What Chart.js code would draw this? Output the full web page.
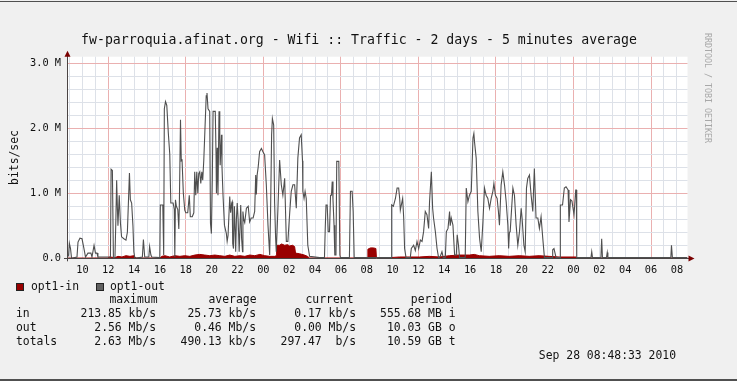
<!DOCTYPE html>
<html>
<head>
<meta charset="utf-8">
<script src="https://cdn.jsdelivr.net/npm/chart.js@4.4.1/dist/chart.umd.min.js"></script>
<style>
html,body{margin:0;padding:0;background:#f0f0f0;}
canvas{display:block;}
</style>
</head>
<body>
<canvas id="c" width="737" height="381"></canvas>
<script>
// ---------- data ----------
const titleText = 'fw-parroquia.afinat.org - Wifi :: Traffic - 2 days - 5 minutes average';
const yAxisTitle = 'bits/sec';
const watermark = 'RRDTOOL / TOBI OETIKER';
const timestampText = 'Sep 28 08:48:33 2010';
const seriesNames = ['opt1-in', 'opt1-out'];

// time axis: hours since Sep 26 00:00
const timeStart = 8.808;
const timeEnd = 56.82;
const xTickHours  = [10,12,14,16,18,20,22,24,26,28,30,32,34,36,38,40,42,44,46,48,50,52,54,56];
const xTickLabels = ['10','12','14','16','18','20','22','00','02','04','06','08','10','12','14','16','18','20','22','00','02','04','06','08'];
const yTickValues = [0, 1, 2, 3];
const yTickLabels = ['0.0', '1.0 M', '2.0 M', '3.0 M'];

// opt1-out (Mbit/s)
const outTimes = [
 8.81,8.85,8.93,8.99,9.08,9.16,9.58,9.66,9.81,9.97,10.12,10.24,10.43,10.66,10.74,10.90,11.01,11.13,11.20,
 12.17,12.22,12.32,12.40,12.52,12.59,12.65,12.71,12.75,12.85,12.94,13.03,13.21,13.37,13.48,13.64,13.71,13.81,13.91,13.98,14.06,
 14.64,14.72,14.82,15.14,15.20,15.30,15.37,15.99,16.03,16.22,16.29,16.34,16.43,16.53,16.65,16.76,16.84,17.02,17.11,17.15,
 17.20,17.27,17.38,17.46,17.50,17.59,17.65,17.71,17.81,17.92,18.00,18.15,18.27,18.35,18.50,18.62,18.69,18.77,18.85,18.93,
 19.00,19.08,19.16,19.24,19.31,19.39,19.47,19.58,19.64,19.72,19.85,19.91,19.98,20.05,20.11,20.28,20.34,20.37,20.43,20.49,
 20.57,20.63,20.66,20.76,20.80,20.88,20.99,21.14,21.20,21.27,21.40,21.47,21.55,21.59,21.63,21.69,21.76,21.82,21.86,21.92,
 21.98,22.05,22.13,22.17,22.25,22.32,22.39,22.42,22.48,22.56,22.69,22.83,22.94,23.06,23.21,23.33,23.41,23.46,23.52,23.60,
 23.71,23.85,23.97,24.10,24.23,24.36,24.49,24.56,24.64,24.70,24.80,24.87,24.95,25.00,25.13,25.26,25.39,25.51,25.65,25.78,
 25.90,26.03,26.16,26.29,26.42,26.55,26.67,26.80,26.93,27.03,27.06,27.15,27.23,27.32,27.44,27.58,28.35,28.73,28.79,28.85,
 28.94,29.02,29.12,29.20,29.27,29.33,29.39,29.47,29.53,29.62,29.68,29.84,29.92,29.97,30.66,30.74,30.87,30.95,31.03,33.91,
 33.93,34.06,34.22,34.35,34.47,34.55,34.60,34.78,34.86,34.93,35.04,35.37,35.45,35.63,35.76,35.89,36.02,36.15,36.28,36.40,
 36.53,36.66,36.79,36.86,37.00,37.10,37.17,37.31,37.44,37.56,37.69,37.82,37.92,38.08,38.16,38.29,38.41,38.46,38.54,38.67,
 38.80,38.93,39.00,39.10,39.18,39.62,39.70,39.83,39.95,40.09,40.22,40.29,40.34,40.47,40.60,40.73,40.86,40.99,41.11,41.24,
 41.37,41.50,41.63,41.76,41.84,41.96,42.09,42.19,42.27,42.40,42.53,42.66,42.79,42.92,42.98,43.04,43.10,43.31,43.43,43.56,
 43.69,43.82,43.95,44.02,44.16,44.26,44.36,44.46,44.59,44.72,44.85,44.97,45.10,45.24,45.36,45.49,45.62,45.75,46.34,46.39,
 46.49,46.65,46.96,46.98,47.15,47.29,47.42,47.58,47.65,47.77,47.88,48.04,48.17,48.22,48.25,49.35,49.41,49.47,50.12,50.18,
 50.24,50.55,50.61,50.66,55.53,55.58,55.65,56.82
];
const outValues = [
 0.00,0.00,0.05,0.23,0.15,0.00,0.02,0.25,0.31,0.30,0.15,0.02,0.08,0.08,0.02,0.20,0.08,0.08,0.02,
 0.02,1.37,1.35,0.00,0.02,0.60,1.20,0.75,0.50,0.97,0.55,0.33,0.30,0.28,0.40,1.31,0.90,0.85,0.50,0.10,0.00,
 0.02,0.29,0.02,0.02,0.18,0.05,0.02,0.01,0.82,0.82,0.05,2.30,2.41,2.35,1.92,1.60,0.85,0.85,0.75,0.02,
 0.90,0.80,0.75,0.45,0.80,2.13,1.50,1.51,1.00,0.74,0.70,0.70,0.97,0.64,0.64,0.70,1.33,0.97,1.33,1.00,
 1.30,1.33,1.15,1.33,1.20,1.50,1.92,2.50,2.54,2.30,2.26,0.54,0.38,1.20,2.26,2.26,1.60,1.00,1.70,0.97,
 2.26,1.85,1.43,1.90,1.41,0.97,0.51,0.38,0.26,0.35,0.95,0.70,0.85,0.87,0.23,0.15,0.80,0.40,0.10,0.62,
 0.85,0.60,0.10,0.10,0.82,0.30,0.10,0.72,0.60,0.55,0.77,0.80,0.56,0.62,0.62,0.72,1.28,0.98,1.28,1.40,
 1.64,1.69,1.64,1.59,1.13,0.51,0.05,0.72,1.90,2.15,2.05,0.87,0.31,0.10,0.77,1.51,1.13,0.97,1.23,0.26,
 0.26,0.67,1.03,1.13,1.13,0.77,1.54,1.85,1.90,1.50,1.03,0.92,1.03,0.92,0.20,0.03,0.01,0.01,0.46,0.82,
 0.82,0.41,0.41,0.97,0.97,1.18,0.90,0.51,0.05,0.05,1.49,1.49,0.05,0.01,0.01,1.03,1.03,0.72,0.01,0.01,
 0.82,0.80,0.92,1.08,1.08,0.92,0.74,0.92,0.62,0.15,0.01,0.01,0.15,0.20,0.12,0.26,0.15,0.28,0.26,0.41,
 0.72,0.67,0.46,0.87,1.33,0.77,0.62,0.41,0.15,0.01,0.03,0.10,0.01,0.01,0.41,0.46,0.72,0.50,0.62,0.51,
 0.05,0.05,0.36,0.20,0.01,0.01,1.08,0.87,0.97,1.03,1.85,1.92,1.79,1.54,0.72,0.31,0.10,0.56,1.08,0.97,
 0.92,0.77,0.92,1.03,1.15,0.97,0.92,0.72,0.51,1.13,1.33,1.13,0.87,0.51,0.15,0.40,0.41,1.08,0.97,0.51,
 0.20,0.41,0.77,0.62,0.20,0.10,1.08,1.23,1.28,0.97,0.72,1.38,0.62,0.62,0.46,0.64,0.31,0.01,0.01,0.13,
 0.15,0.01,0.01,0.82,0.82,1.08,1.10,1.05,0.56,0.90,0.88,0.67,1.05,1.05,0.01,0.01,0.10,0.01,0.01,0.30,
 0.01,0.01,0.09,0.01,0.01,0.20,0.01,0.01
];

// opt1-in (Mbit/s)
const inTimes = [
 8.81,11.98,12.13,12.52,12.75,13.06,13.37,13.68,13.98,14.14,15.99,16.15,16.38,16.76,17.15,17.54,17.92,18.31,18.70,19.08,
 19.47,19.86,20.24,20.63,21.02,21.40,21.79,22.18,22.57,22.95,23.34,23.73,24.11,24.50,24.89,24.99,25.03,25.26,25.41,25.65,
 25.88,26.03,26.26,26.42,26.49,26.80,27.18,27.41,27.57,32.05,32.09,32.29,32.52,32.71,32.75,33.76,34.53,35.30,36.08,36.85,
 37.62,38.39,39.16,39.94,40.32,40.71,41.48,42.25,43.02,43.80,44.57,45.34,46.11,46.88,48.19,48.27,56.82
];
const inValues = [
 0.003,0.005,0.02,0.01,0.03,0.02,0.04,0.03,0.04,0.005,0.005,0.03,0.04,0.02,0.04,0.03,0.04,0.03,0.05,0.06,
 0.05,0.04,0.05,0.04,0.03,0.05,0.03,0.04,0.03,0.05,0.04,0.06,0.04,0.03,0.03,0.04,0.20,0.20,0.22,0.20,
 0.21,0.19,0.20,0.18,0.08,0.07,0.05,0.03,0.005,0.005,0.14,0.16,0.16,0.15,0.005,0.01,0.02,0.02,0.02,0.03,
 0.02,0.04,0.05,0.05,0.06,0.04,0.03,0.04,0.03,0.04,0.03,0.04,0.03,0.02,0.02,0.005,0.005
];

// statistics table
const statHeaders = ['maximum', 'average', 'current', 'period'];
const statRowLabels = ['in', 'out', 'totals'];
const statIn     = ['213.85 kb/s', '25.73 kb/s', '0.17 kb/s', '555.68 MB i'];
const statOut    = ['2.56 Mb/s', '0.46 Mb/s', '0.00 Mb/s', '10.03 GB o'];
const statTotals = ['2.63 Mb/s', '490.13 kb/s', '297.47  b/s', '10.59 GB t'];

// ---------- styling ----------
const MONO = '"DejaVu Sans Mono", "Liberation Mono", monospace';
const COL_IN = '#990000';
const COL_OUT = '#4f4f4f';
const GRID_MINOR = '#dde1e8';
const GRID_MAJOR = '#eab0b0';

const rrdPlugin = {
  id: 'rrd',
  beforeDraw(chart) {
    const {ctx, chartArea: a} = chart;
    ctx.save();
    ctx.fillStyle = '#f0f0f0';
    ctx.fillRect(0, 0, chart.width, chart.height);
    ctx.fillStyle = '#ffffff';
    ctx.fillRect(a.left, a.top, a.right - a.left, a.bottom - a.top);
    ctx.restore();
  },
  afterDraw(chart) {
    const {ctx, chartArea: a} = chart;
    const y0 = chart.scales.y.getPixelForValue(0);
    ctx.save();
    // axes
    ctx.strokeStyle = '#4a4444';
    ctx.lineWidth = 1;
    ctx.beginPath();
    ctx.moveTo(a.left + 0.5, y0 + 3);
    ctx.lineTo(a.left + 0.5, a.top - 1);
    ctx.moveTo(a.left - 3, Math.round(y0) + 0.5);
    ctx.lineTo(a.right + 2, Math.round(y0) + 0.5);
    ctx.stroke();
    // arrows
    ctx.fillStyle = '#7a0000';
    ctx.beginPath();
    ctx.moveTo(a.left + 0.5, a.top - 6);
    ctx.lineTo(a.left - 2.5, a.top);
    ctx.lineTo(a.left + 3.5, a.top);
    ctx.closePath();
    ctx.fill();
    ctx.beginPath();
    ctx.moveTo(a.right + 7, Math.round(y0) + 0.5);
    ctx.lineTo(a.right + 1, Math.round(y0) - 2.5);
    ctx.lineTo(a.right + 1, Math.round(y0) + 3.5);
    ctx.closePath();
    ctx.fill();

    // frame lines
    ctx.fillStyle = '#505050';
    ctx.fillRect(0, 1, chart.width, 1);
    ctx.fillRect(0, 379, chart.width, 2);

    // title
    ctx.fillStyle = '#111';
    ctx.font = '13.2px ' + MONO;
    ctx.textAlign = 'center';
    ctx.textBaseline = 'middle';
    ctx.fillText(titleText, 359, 41);

    // watermark
    ctx.save();
    ctx.translate(707, 33);
    ctx.rotate(Math.PI / 2);
    ctx.fillStyle = '#a8a8a8';
    ctx.font = '8.3px ' + MONO;
    ctx.textAlign = 'left';
    ctx.textBaseline = 'middle';
    ctx.fillText(watermark, 0, 0);
    ctx.restore();

    // legend
    const lf = '11.4px ' + MONO;
    ctx.font = lf;
    ctx.textBaseline = 'middle';
    ctx.textAlign = 'left';
    const boxes = [[16, COL_IN, 31], [96, '#606060', 110]];
    boxes.forEach((b, i) => {
      ctx.fillStyle = b[1];
      ctx.fillRect(b[0], 283, 8, 8);
      ctx.strokeStyle = '#222';
      ctx.lineWidth = 1;
      ctx.strokeRect(b[0] + 0.5, 283.5, 7, 7);
      ctx.fillStyle = '#111';
      ctx.fillText(seriesNames[i], b[2], 287);
    });

    // statistics table
    const headRight = [157.5, 256.5, 353.5, 452];
    const colRight = [156, 256, 356, 455.5];
    ctx.textAlign = 'right';
    statHeaders.forEach((h, i) => ctx.fillText(h, headRight[i], 300));
    const rows = [statIn, statOut, statTotals];
    const rowY = [314.3, 328.3, 342.3];
    rows.forEach((r, ri) => {
      ctx.textAlign = 'left';
      ctx.fillText(statRowLabels[ri], 16, rowY[ri]);
      ctx.textAlign = 'right';
      r.forEach((c, ci) => ctx.fillText(c, colRight[ci], rowY[ri]));
    });

    // timestamp
    ctx.textAlign = 'right';
    ctx.fillText(timestampText, 676, 356);
    ctx.restore();
  }
};

const isInt = v => Math.abs(v - Math.round(v)) < 1e-6;

new Chart(document.getElementById('c'), {
  type: 'line',
  data: {
    datasets: [
      {
        label: seriesNames[1],
        data: outTimes.map((t, i) => ({x: t, y: outValues[i]})),
        borderColor: COL_OUT,
        borderWidth: 1.1,
        pointRadius: 0,
        fill: false,
        tension: 0,
        order: 1
      },
      {
        label: seriesNames[0],
        data: inTimes.map((t, i) => ({x: t, y: inValues[i]})),
        borderColor: COL_IN,
        backgroundColor: COL_IN,
        borderWidth: 1,
        pointRadius: 0,
        fill: 'origin',
        tension: 0,
        order: 2
      }
    ]
  },
  options: {
    responsive: false,
    animation: false,
    devicePixelRatio: 1,
    layout: {padding: {left: 0, right: 49.5, top: 56.7, bottom: 0}},
    plugins: {
      legend: {display: false},
      title: {display: false},
      tooltip: {enabled: false}
    },
    scales: {
      x: {
        type: 'linear',
        min: timeStart,
        max: timeEnd,
        afterFit(s) { s.height = 122.7; },
        border: {display: false},
        grid: {
          drawTicks: false,
          lineWidth: 1,
          color: c => (isInt(c.tick.value) && Math.round(c.tick.value) % 6 === 0) ? GRID_MAJOR : GRID_MINOR
        },
        ticks: {
          stepSize: 1,
          includeBounds: false,
          autoSkip: false,
          maxRotation: 0,
          minRotation: 0,
          padding: 5.5,
          color: '#111',
          font: {family: MONO, size: 10.3},
          callback(v) {
            if (!isInt(v)) return '';
            const i = xTickHours.indexOf(Math.round(v));
            return i >= 0 ? xTickLabels[i] : '';
          }
        }
      },
      y: {
        min: 0,
        max: 3.1,
        afterFit(s) { s.width = 67; },
        border: {display: false},
        grid: {
          drawTicks: false,
          lineWidth: 1,
          color: c => isInt(c.tick.value) ? GRID_MAJOR : GRID_MINOR
        },
        ticks: {
          stepSize: 0.2,
          includeBounds: false,
          autoSkip: false,
          padding: 6,
          color: '#111',
          font: {family: MONO, size: 10.3},
          callback(v) {
            const i = yTickValues.findIndex(t => Math.abs(t - v) < 1e-6);
            return i >= 0 ? yTickLabels[i] : '';
          }
        },
        title: {
          display: true,
          text: yAxisTitle,
          color: '#111',
          font: {family: MONO, size: 11.4},
          padding: {top: 8.7, bottom: 0}
        }
      }
    }
  },
  plugins: [rrdPlugin]
});
</script>
</body>
</html>
